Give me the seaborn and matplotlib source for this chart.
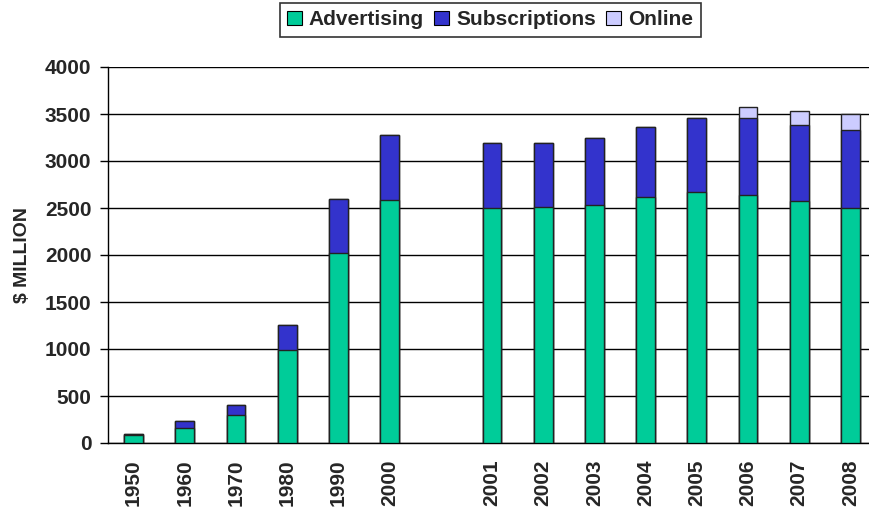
import matplotlib
matplotlib.use("Agg")
import matplotlib.pyplot as plt
import matplotlib.patches as mpatches
import seaborn as sns
import pandas as pd
import numpy as np

# Revenue by year ($ million); one empty slot separates the decades from the annual series
years = ["1950", "1960", "1970", "1980", "1990", "2000",
         "2001", "2002", "2003", "2004", "2005", "2006", "2007", "2008"]
advertising = [80, 160, 300, 985, 2025, 2580,
               2500, 2510, 2530, 2620, 2665, 2640, 2570, 2500]
subscriptions = [20, 75, 105, 270, 575, 695,
                 690, 680, 720, 740, 790, 815, 815, 825]
online = [0, 0, 0, 0, 0, 0,
          0, 0, 0, 0, 0, 120, 150, 175]

order = years[:6] + [" "] + years[6:]

colors = {"Advertising": "#00CC99", "Subscriptions": "#3333CC", "Online": "#CCCCFF"}

sns.set_style("white")
plt.rcParams["font.family"] = ["Liberation Sans", "DejaVu Sans"]
plt.rcParams["font.weight"] = "bold"

df = pd.DataFrame({
    "year": years,
    "adv": advertising,
    "subs": np.add(advertising, subscriptions),
    "total": np.add(np.add(advertising, subscriptions), online),
})

fig = plt.figure(figsize=(8.69, 5.12), dpi=100)
ax = fig.add_axes([108 / 869, 69 / 512, 768 / 869, 376 / 512])

bar_w = 0.37
for col, name in [("total", "Online"), ("subs", "Subscriptions"), ("adv", "Advertising")]:
    sns.barplot(data=df, x="year", y=col, order=order, color=colors[name],
                width=bar_w, edgecolor="#222222", linewidth=1.0, saturation=1,
                ax=ax, zorder=3)

ax.set_xlim(-0.5, len(order) - 0.5)
ax.set_ylim(0, 4000)
ax.set_yticks(np.arange(0, 4001, 500))
ax.yaxis.grid(True, color="black", linewidth=1.0, zorder=0)
ax.xaxis.grid(False)
ax.set_axisbelow(True)

for side in ["top", "right"]:
    ax.spines[side].set_visible(False)
for side in ["left", "bottom"]:
    ax.spines[side].set_color("black")
    ax.spines[side].set_linewidth(1.0)

# Category labels at bar centres, tick marks on the category boundaries
ax.set_xticks(range(len(order)))
ax.set_xticklabels(order, rotation=90, fontsize=15, fontweight="bold")
ax.tick_params(axis="x", which="major", length=0, pad=12)
ax.set_xticks(np.arange(-0.5, len(order), 1.0), minor=True)
ax.tick_params(axis="x", which="minor", length=6, width=1, color="black", direction="out")

ax.tick_params(axis="y", which="major", length=6, width=1, color="black",
               direction="out", labelsize=15, pad=6, left=True)
for lbl in ax.get_yticklabels():
    lbl.set_fontweight("bold")

ax.set_xlabel("")
ax.set_ylabel("$ MILLION", fontsize=14, fontweight="bold", labelpad=10)

handles = [mpatches.Patch(facecolor=colors[n], edgecolor="black", linewidth=0.8, label=n)
           for n in ["Advertising", "Subscriptions", "Online"]]
leg = fig.legend(handles=handles, loc="upper center", bbox_to_anchor=(0.564, 0.994),
                 ncol=3, frameon=True, fancybox=False, edgecolor="black",
                 handlelength=0.7, handleheight=0.7, handletextpad=0.35,
                 columnspacing=0.5, borderpad=0.35, borderaxespad=0,
                 prop={"size": 15, "weight": "bold"})
leg.get_frame().set_linewidth(1.2)

fig.savefig("out.png", dpi=100)
